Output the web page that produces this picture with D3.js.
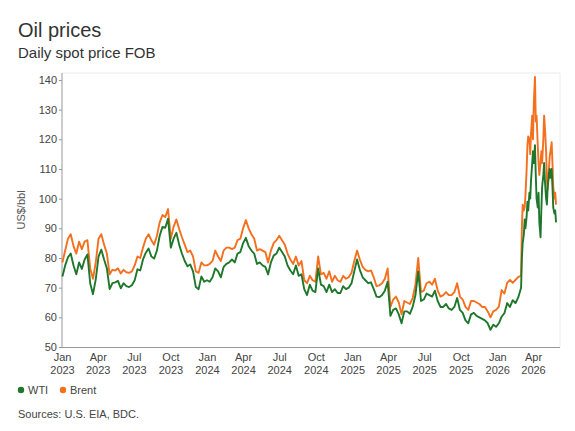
<!DOCTYPE html>
<html>
<head>
<meta charset="utf-8">
<script src="https://cdn.jsdelivr.net/npm/d3@7"></script>
<style>
  body { margin: 0; background: #fff; }
  .canvas { width: 575px; height: 431px; }
  text { font-family: "Liberation Sans", Arial, sans-serif; }
</style>
</head>
<body>
<div class="canvas"></div>
<script>
// weekly readings, Monday of each week, starting 2023-01-02
const firstWeek = "2023-01-02";

const wtiWeekly = [
  // 2023
  73.8, 77.5, 80.2, 81.5, 77.5,
  74.5, 78.5, 76.3, 79.5,
  81.2, 71.5, 67.8, 72.8,
  80.5, 82.8, 79.5, 76.5,
  69.5, 71.5, 71.8, 72.3, 69.8,
  71.5, 70.5, 70.2, 70.8,
  72.5, 76.2, 75.8, 79.5, 81.8,
  83.2, 80.5, 79.8, 82.5,
  87.5, 90.5, 90.2, 93.2,
  83.5, 86.5, 88.5, 84.5, 81.5,
  79.0, 77.2, 77.8, 75.5,
  70.2, 69.5, 73.8, 72.0,
  // 2024
  72.5, 72.0, 73.5, 76.5, 75.5,
  73.5, 77.0, 78.0, 78.5,
  79.5, 78.5, 81.5, 82.0,
  85.0, 86.8, 84.0, 82.5, 81.5,
  78.0, 78.5, 77.5, 77.0,
  74.5, 78.5, 80.8, 81.5,
  83.5, 82.0, 80.5, 77.5, 75.8,
  74.5, 77.5, 74.0, 74.5,
  69.5, 67.5, 71.0, 69.0, 68.5,
  76.5, 71.0, 70.5, 68.5,
  71.0, 68.5, 69.5, 68.2,
  68.2, 70.5, 69.5, 70.0, 71.5,
  // 2025
  75.5, 79.5, 76.0, 73.5,
  72.5, 71.5, 71.8, 69.5,
  67.0, 66.8, 67.5, 69.0, 72.0,
  60.5, 62.5, 63.0, 61.0,
  58.0, 62.0, 62.0, 61.2,
  63.5, 67.5, 75.5, 65.5, 66.0,
  68.0, 67.5, 67.0, 69.0,
  65.5, 63.5, 63.5, 64.5,
  63.0, 62.5, 63.5, 66.5, 62.5,
  61.5, 59.0, 58.0, 61.0,
  61.5, 60.5, 60.0, 59.5,
  59.0, 58.0, 55.8, 57.5, 56.8,
  // 2026
  58.0, 60.2, 61.4, 64.8, 63.5, 65.8, 64.8, 66.8
];

const brentWeekly = [
  // 2023
  78.5, 82.5, 86.5, 88.0, 84.0,
  81.5, 85.5, 83.0, 85.5,
  86.0, 76.5, 73.0, 78.5,
  86.5, 88.0, 84.5, 81.5,
  74.5, 76.0, 75.8, 76.5, 74.8,
  76.0, 75.2, 75.0, 75.5,
  77.5, 80.5, 80.0, 83.5, 86.5,
  88.0, 86.0, 84.5, 87.5,
  92.0, 94.5, 93.8, 96.5,
  86.5, 90.5, 93.0, 89.8, 87.0,
  84.5, 82.0, 82.5, 80.5,
  75.5, 75.0, 78.5, 77.5,
  // 2024
  77.5, 78.0, 79.0, 82.5, 80.5,
  79.0, 82.5, 83.5, 83.5,
  83.0, 83.5, 86.0, 86.5,
  90.0, 92.8, 90.0, 88.0, 86.5,
  82.5, 83.0, 82.5, 82.0,
  78.5, 82.5, 85.0, 86.0,
  87.5, 86.0, 84.5, 81.5, 79.5,
  78.0, 80.5, 77.5, 79.0,
  72.5, 71.5, 74.0, 72.5, 72.0,
  80.5, 74.5, 75.0, 73.0,
  75.5, 72.0, 74.0, 72.5,
  72.0, 74.0, 73.0, 73.5, 75.0,
  // 2025
  79.0, 82.5, 79.5, 77.0,
  76.0, 75.5, 75.8, 73.5,
  70.5, 70.8, 71.5, 73.0, 76.5,
  63.5, 66.0, 67.0, 65.0,
  61.0, 65.5, 65.0, 64.5,
  66.5, 71.0, 80.0, 68.5, 69.0,
  71.5, 72.0, 71.0, 73.0,
  69.0, 67.0, 67.5, 68.5,
  67.5, 67.5, 68.5, 71.5, 67.0,
  66.0, 63.5, 62.5, 65.5,
  65.5, 65.0, 64.5, 63.5,
  63.5, 62.0, 60.0, 62.0, 62.5,
  // 2026
  63.5, 69.2, 68.0, 71.6, 72.6, 71.6, 72.6, 73.6
];

// 2026 spike, read at a finer step
const spikeDates = [
  "2026-03-02", "2026-03-04", "2026-03-06", "2026-03-09", "2026-03-11",
  "2026-03-13", "2026-03-16", "2026-03-18", "2026-03-20", "2026-03-23",
  "2026-03-25", "2026-03-27", "2026-03-30", "2026-04-01", "2026-04-03",
  "2026-04-06", "2026-04-08", "2026-04-10", "2026-04-13", "2026-04-15",
  "2026-04-17", "2026-04-20", "2026-04-22", "2026-04-24", "2026-04-27",
  "2026-04-29", "2026-05-01", "2026-05-04", "2026-05-06", "2026-05-08",
  "2026-05-11", "2026-05-13", "2026-05-15", "2026-05-18", "2026-05-20",
  "2026-05-22", "2026-05-25", "2026-05-27", "2026-05-29"
];
const wtiSpike = [
  70, 80, 85, 88, 93, 90, 94, 99, 96, 102,
  100, 106, 112, 116, 112, 118, 108, 100, 97, 102,
  92, 87, 96, 104, 108, 112, 106, 100, 98, 104,
  108, 110, 107, 110, 104, 97, 95, 96, 92
];
const brentSpike = [
  74, 90, 98, 96, 97, 101, 110, 118, 121, 120,
  115, 122, 128, 120, 132, 141, 126, 128, 118, 112,
  108, 112, 116, 112, 120, 128, 124, 116, 106, 103,
  110, 114, 116, 119, 112, 104, 100, 102, 98
];

const seriesNames = ["WTI", "Brent"];
const tickMonths = ["Jan", "Apr", "Jul", "Oct"];
const yTicks = [50, 60, 70, 80, 90, 100, 110, 120, 130, 140];

setup();

function setup() {
  const width = 575;
  const height = 431;
  const margin = { top: 73, right: 15, bottom: 84, left: 62 };
  const colors = { WTI: "#1f772c", Brent: "#f4701e" };

  const svg = d3
    .select(".canvas")
    .append("svg")
    .attr("width", width)
    .attr("height", height);

  const parse = d3.timeParse("%Y-%m-%d");
  const start = parse(firstWeek);
  const weekDates = wtiWeekly.map((d, i) => d3.timeDay.offset(start, i * 7));
  const sDates = spikeDates.map(parse);

  const rows = (weekly, spike) =>
    weekDates
      .map((d, i) => ({ date: d, value: weekly[i] }))
      .concat(sDates.map((d, i) => ({ date: d, value: spike[i] })));

  const series = {
    WTI: rows(wtiWeekly, wtiSpike),
    Brent: rows(brentWeekly, brentSpike),
  };

  const x = d3
    .scaleTime()
    .domain([new Date(2023, 0, 1), new Date(2026, 5, 8)])
    .range([margin.left, width - margin.right]);

  const y = d3
    .scaleLinear()
    .domain([50, 140])
    .range([height - margin.bottom, 80]);

  // light frame on top and right
  svg
    .append("path")
    .attr(
      "d",
      `M${margin.left},${margin.top}H${width - margin.right}V${height - margin.bottom}`
    )
    .attr("fill", "none")
    .attr("stroke", "#ececec");

  // titles
  svg
    .append("text")
    .text("Oil prices")
    .attr("x", 18)
    .attr("y", 37)
    .attr("font-size", 20)
    .attr("fill", "#333");

  svg
    .append("text")
    .text("Daily spot price FOB")
    .attr("x", 18)
    .attr("y", 58)
    .attr("font-size", 15)
    .attr("fill", "#333");

  // y axis
  const yAxis = svg
    .append("g")
    .attr("transform", `translate(${margin.left},0)`)
    .call(d3.axisLeft(y).tickValues(yTicks).tickSize(3).tickSizeOuter(0));
  yAxis.select(".domain").remove();
  yAxis
    .append("line")
    .attr("x1", 0)
    .attr("x2", 0)
    .attr("y1", margin.top)
    .attr("y2", height - margin.bottom)
    .attr("stroke", "#999");
  yAxis.selectAll(".tick line").attr("stroke", "#999");
  yAxis
    .selectAll(".tick text")
    .attr("font-size", 11)
    .attr("fill", "#444")
    .attr("x", -5)
    .style("font-family", "'Liberation Sans', Arial, sans-serif");

  svg
    .append("text")
    .text("US$/bbl")
    .attr("transform", `translate(25, ${(margin.top + height - margin.bottom) / 2}) rotate(-90)`)
    .attr("text-anchor", "middle")
    .attr("font-size", 11)
    .attr("fill", "#555");

  // x axis
  const xTicks = d3.timeMonth
    .every(3)
    .range(new Date(2023, 0, 1), new Date(2026, 5, 1));
  const xAxis = svg
    .append("g")
    .attr("transform", `translate(0,${height - margin.bottom})`)
    .call(d3.axisBottom(x).tickValues(xTicks).tickSize(0).tickFormat(""));
  xAxis.select(".domain").attr("stroke", "#999").attr("d", `M${margin.left},0.5H${width - margin.right}`);

  const labels = xAxis
    .selectAll(".tick")
    .append("text")
    .attr("fill", "#444")
    .attr("font-size", 11)
    .attr("text-anchor", "middle");
  labels
    .append("tspan")
    .attr("x", 0)
    .attr("y", 14)
    .text((d) => tickMonths[d.getMonth() / 3]);
  labels
    .append("tspan")
    .attr("x", 0)
    .attr("y", 27)
    .text((d) => d.getFullYear());

  // lines
  const line = d3
    .line()
    .x((d) => x(d.date))
    .y((d) => y(d.value));

  ["Brent", "WTI"].forEach((name) => {
    svg
      .append("path")
      .datum(series[name])
      .attr("fill", "none")
      .attr("stroke", colors[name])
      .attr("stroke-width", 1.9)
      .attr("stroke-linejoin", "round")
      .attr("d", line);
  });

  // legend
  const legend = svg.append("g").attr("transform", "translate(21, 390)");
  const item = legend
    .selectAll("g")
    .data(seriesNames)
    .enter()
    .append("g")
    .attr("transform", (d, i) => `translate(${i * 42}, 0)`);
  item
    .append("circle")
    .attr("r", 3.2)
    .attr("fill", (d) => colors[d]);
  item
    .append("text")
    .text((d) => d)
    .attr("x", 7)
    .attr("y", 4)
    .attr("font-size", 11)
    .attr("fill", "#444");

  svg
    .append("text")
    .text("Sources: U.S. EIA, BDC.")
    .attr("x", 18)
    .attr("y", 418)
    .attr("font-size", 11)
    .attr("fill", "#444");
}
</script>
</body>
</html>
